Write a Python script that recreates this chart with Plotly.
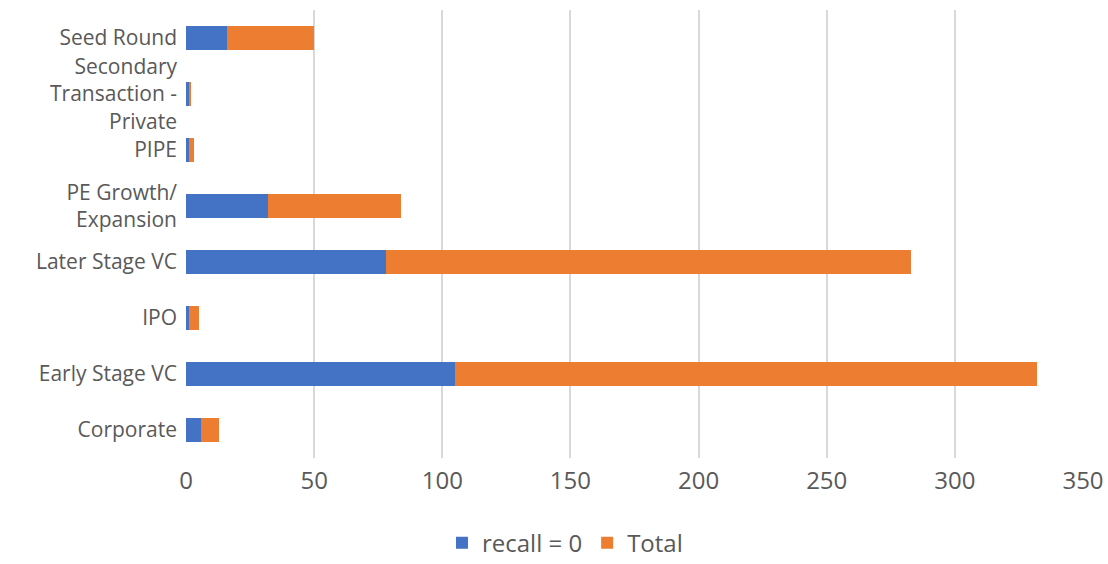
import plotly.graph_objects as go

categories = ["Corporate", "Early Stage VC", "IPO", "Later Stage VC",
              "PE Growth/<br>Expansion", "PIPE",
              "Secondary<br>Transaction -<br>Private", "Seed Round"]
recall_zero = [6, 105, 1, 78, 32, 1, 1, 16]
total = [7, 227, 4, 205, 52, 2, 1, 34]
x_ticks = [0, 50, 100, 150, 200, 250, 300, 350]

font_family = "'Open Sans', sans-serif"
grey = "#595959"
fs = 24

fig = go.Figure()
fig.add_trace(go.Bar(y=categories, x=recall_zero, orientation="h",
                     name="recall = 0", marker=dict(color="#4472C4", line=dict(width=0))))
fig.add_trace(go.Bar(y=categories, x=total, orientation="h",
                     name="Total", marker=dict(color="#ED7D31", line=dict(width=0))))

fig.update_layout(
    barmode="stack",
    bargap=0.57,
    width=1108, height=564,
    margin=dict(l=186, r=25, t=10, b=106, autoexpand=False),
    paper_bgcolor="white", plot_bgcolor="white",
    font=dict(family=font_family, size=fs, color=grey),
    xaxis=dict(range=[0, 350], tickvals=x_ticks, showgrid=True, gridcolor="#d9d9d9",
               gridwidth=1.5, zeroline=False, showline=False, ticks="",
               ticklabelstandoff=6, automargin=False,
               tickfont=dict(size=fs, color=grey)),
    yaxis=dict(categoryorder="array", categoryarray=categories, showgrid=False,
               zeroline=False, showline=False, ticks="",
               ticklabelstandoff=8, automargin=False,
               tickfont=dict(size=21, color=grey)),
    legend=dict(orientation="h", x=0.4225, xanchor="center", y=-0.19, yanchor="middle",
                font=dict(size=fs, color=grey), traceorder="normal"),
)
fig.write_html("out.html")
